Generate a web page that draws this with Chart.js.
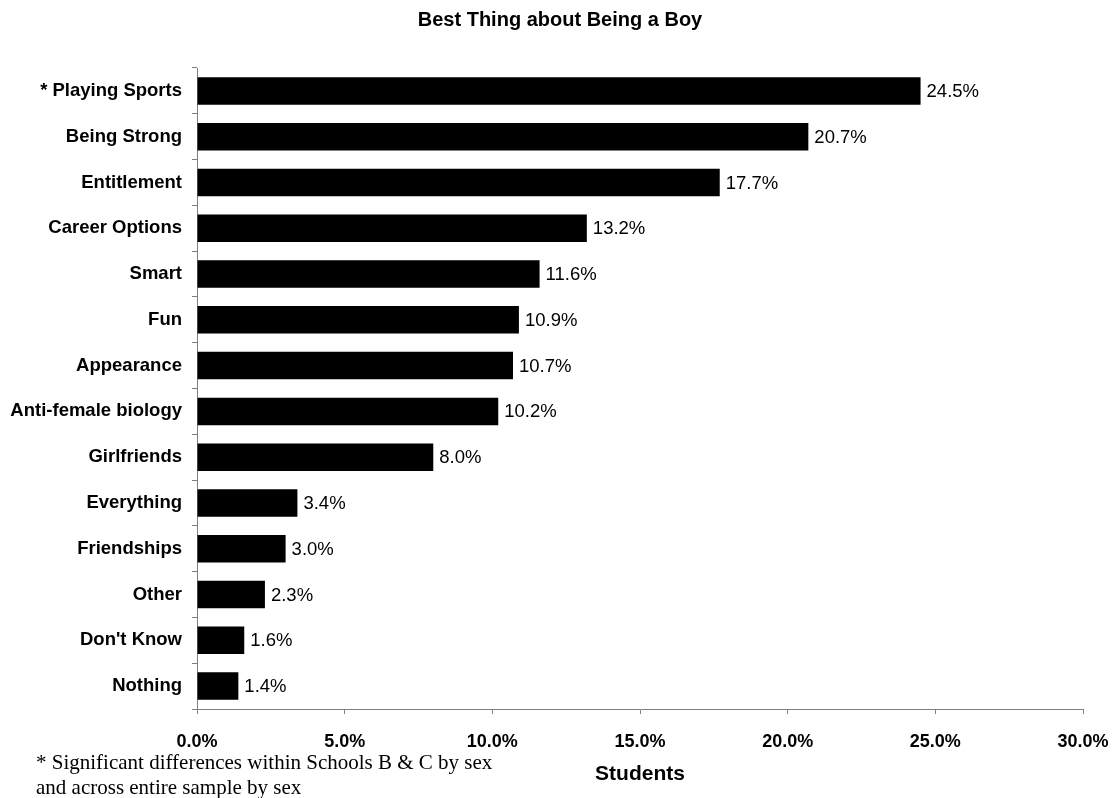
<!DOCTYPE html>
<html>
<head>
<meta charset="utf-8">
<script src="https://cdn.jsdelivr.net/npm/chart.js@4"></script>
<style>
  body { margin: 0; background: #fff; }
  #wrap { position: relative; width: 1115px; height: 798px; }
  #nota {
    position: absolute; left: 36px; top: 750px;
    font-family: "Liberation Serif", "Times New Roman", serif;
    font-size: 21px; line-height: 25px; color: #000; white-space: nowrap;
  }
</style>
</head>
<body>
<div id="wrap">
  <canvas id="grafico" width="1115" height="798"></canvas>
  <div id="nota">* Significant differences within Schools B &amp; C by sex<br>and across entire sample by sex</div>
</div>
<script>
const categorias = ["* Playing Sports", "Being Strong", "Entitlement", "Career Options", "Smart", "Fun",
    "Appearance", "Anti-female biology", "Girlfriends", "Everything", "Friendships", "Other",
    "Don't Know", "Nothing"];
const percentuais = [24.5, 20.7, 17.7, 13.2, 11.6, 10.9, 10.7, 10.2, 8.0, 3.4, 3.0, 2.3, 1.6, 1.4];
const ticksX = [0, 5, 10, 15, 20, 25, 30];

const fonte = "'Liberation Sans', Arial, sans-serif";

// escreve o valor na ponta de cada barra
const rotulos = {
    id: "rotulos",
    afterDatasetsDraw(chart) {
        const ctx = chart.ctx;
        const meta = chart.getDatasetMeta(0);
        ctx.save();
        ctx.font = "18.5px " + fonte;
        ctx.fillStyle = "#000";
        ctx.textBaseline = "middle";
        meta.data.forEach((barra, i) => {
            ctx.fillText(percentuais[i].toFixed(1) + "%", barra.x + 6, barra.y + 1);
        });
        ctx.restore();
    }
};

const titulo = {
    id: "titulo",
    afterDraw(chart) {
        const ctx = chart.ctx;
        ctx.save();
        ctx.font = "bold 20px " + fonte;
        ctx.fillStyle = "#000";
        ctx.textAlign = "center";
        ctx.textBaseline = "middle";
        ctx.fillText("Best Thing about Being a Boy", 560, 20);
        ctx.restore();
    }
};

new Chart(document.getElementById("grafico").getContext("2d"), {
    type: "bar",
    data: {
        labels: categorias,
        datasets: [{
            data: percentuais,
            backgroundColor: "#000",
            barPercentage: 0.6,
            categoryPercentage: 1
        }]
    },
    options: {
        indexAxis: "y",
        responsive: false,
        animation: false,
        layout: { padding: { left: 0, right: 32, top: 68, bottom: 11 } },
        plugins: {
            legend: { display: false },
            tooltip: { enabled: false }
        },
        scales: {
            x: {
                min: 0,
                max: 30,
                afterBuildTicks(scale) {
                    scale.ticks = ticksX.map(v => ({ value: v }));
                },
                afterFit(scale) {
                    scale.height = 78;
                    scale.paddingLeft = 0;
                    scale.paddingRight = 0;
                },
                grid: { drawOnChartArea: false, tickLength: 5, color: "#808080" },
                border: { color: "#808080", width: 1 },
                ticks: {
                    color: "#000",
                    font: { family: fonte, size: 18, weight: "bold" },
                    padding: 17,
                    maxRotation: 0,
                    callback: v => Number(v).toFixed(1) + "%"
                },
                title: {
                    display: true,
                    text: "Students",
                    color: "#000",
                    font: { family: fonte, size: 21, weight: "bold" },
                    padding: { top: 2, bottom: 0 }
                }
            },
            y: {
                afterFit(scale) { scale.width = 197; },
                grid: { drawOnChartArea: false, tickLength: 5, color: "#808080", offset: true },
                border: { color: "#808080", width: 1 },
                ticks: {
                    color: "#000",
                    font: { family: fonte, size: 18.5, weight: "bold" },
                    padding: 10,
                    autoSkip: false
                }
            }
        }
    },
    plugins: [rotulos, titulo]
});
</script>
</body>
</html>
